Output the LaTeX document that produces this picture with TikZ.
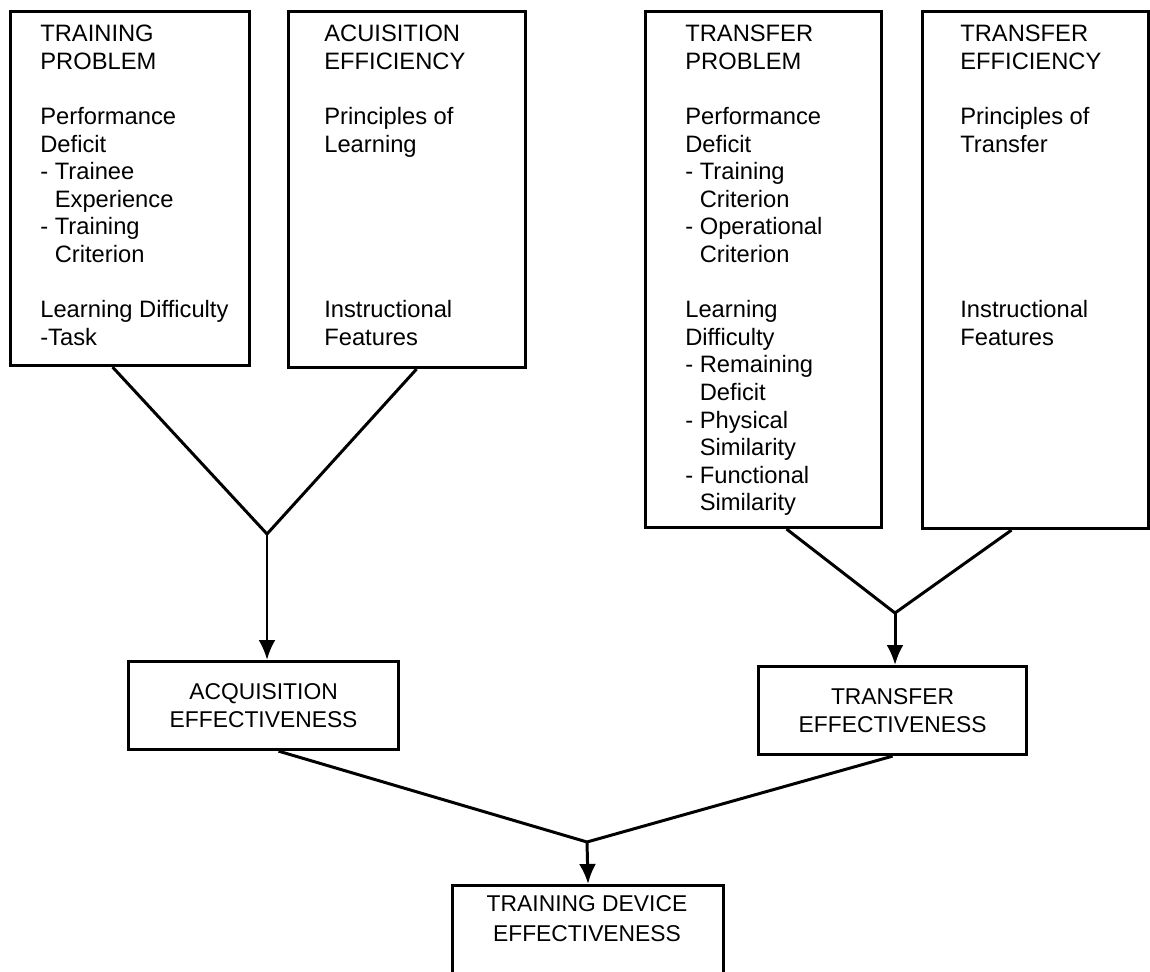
\documentclass[tikz,border=0pt]{standalone}
\usepackage{fontspec}
\setmainfont{Liberation Sans}
\usetikzlibrary{arrows.meta}

\tikzset{
  bigbox/.style={draw, line width=1.8pt, anchor=north west, inner sep=0pt},
  smallbox/.style={draw, line width=1.8pt, anchor=north west, inner sep=0pt, align=center,
    font=\fontsize{13pt}{15.7pt}\selectfont},
  txt/.style={anchor=north west, inner sep=0pt, align=left,
    font=\fontsize{13.5pt}{15.7pt}\selectfont},
  wire/.style={line width=1.7pt},
}

\begin{document}
\begin{tikzpicture}[x=0.02cm, y=-0.02cm, >={Latex[length=4mm,width=3.4mm]}]
\useasboundingbox (0,0) rectangle (1150,972);
\clip (0,0) rectangle (1150,972);

% top boxes
\node[bigbox, minimum width=4.78cm, minimum height=7.08cm] (tp) at (9,10) {};
\node[bigbox, minimum width=4.74cm, minimum height=7.12cm] (ae) at (287,10) {};
\node[bigbox, minimum width=4.72cm, minimum height=10.32cm] (trp) at (644,10) {};
\node[bigbox, minimum width=4.52cm, minimum height=10.34cm] (te) at (921,10) {};

\node[txt] (tp-txt) at (40,25) {TRAINING\\PROBLEM\\[15.7pt]Performance\\Deficit\\- Trainee\\\phantom{- }Experience\\- Training\\\phantom{- }Criterion\\[15.7pt]Learning Difficulty\\-Task};
\node[txt] (ae-txt) at (324,25) {ACUISITION\\EFFICIENCY\\[15.7pt]Principles of\\Learning\\[78.5pt]Instructional\\Features};
\node[txt] (trp-txt) at (685,25) {TRANSFER\\PROBLEM\\[15.7pt]Performance\\Deficit\\- Training\\\phantom{- }Criterion\\- Operational\\\phantom{- }Criterion\\[15.7pt]Learning\\Difficulty\\- Remaining\\\phantom{- }Deficit\\- Physical\\\phantom{- }Similarity\\- Functional\\\phantom{- }Similarity};
\node[txt] (te-txt) at (960,25) {TRANSFER\\EFFICIENCY\\[15.7pt]Principles of\\Transfer\\[78.5pt]Instructional\\Features};

% effectiveness boxes
\node[smallbox, minimum width=5.4cm, minimum height=1.76cm] (acq) at (127,660) {ACQUISITION\\EFFECTIVENESS};
\node[smallbox, minimum width=5.36cm, minimum height=1.76cm] (tfe) at (757,665) {TRANSFER\\EFFECTIVENESS};
\node[smallbox, minimum width=5.42cm, minimum height=2.4cm] (tde) at (451,884) {};
\node[txt, anchor=north, align=center, font=\fontsize{13pt}{15.7pt}\selectfont] (tde-txt) at (587,895) {TRAINING DEVICE\\[1.3pt]EFFECTIVENESS};

% junctions
\coordinate (apL) at (267,534);
\coordinate (apR) at (895,613);
\coordinate (apB) at (587,842);

\draw[wire] ([xshift=-0.35cm]tp.south) -- (apL) -- ([xshift=0.19cm]ae.south);
\draw[wire,->] (apL) -- (apL |- acq.north);
\draw[wire] ([xshift=0.46cm]trp.south) -- (apR) -- ([xshift=-0.48cm]te.south);
\draw[wire,->] (apR) -- (apR |- tfe.north);
\draw[wire] ([xshift=0.3cm]acq.south) -- (apB) -- (tfe.south);
\draw[wire,->] (apB) -- (tde.north);
\end{tikzpicture}
\end{document}
